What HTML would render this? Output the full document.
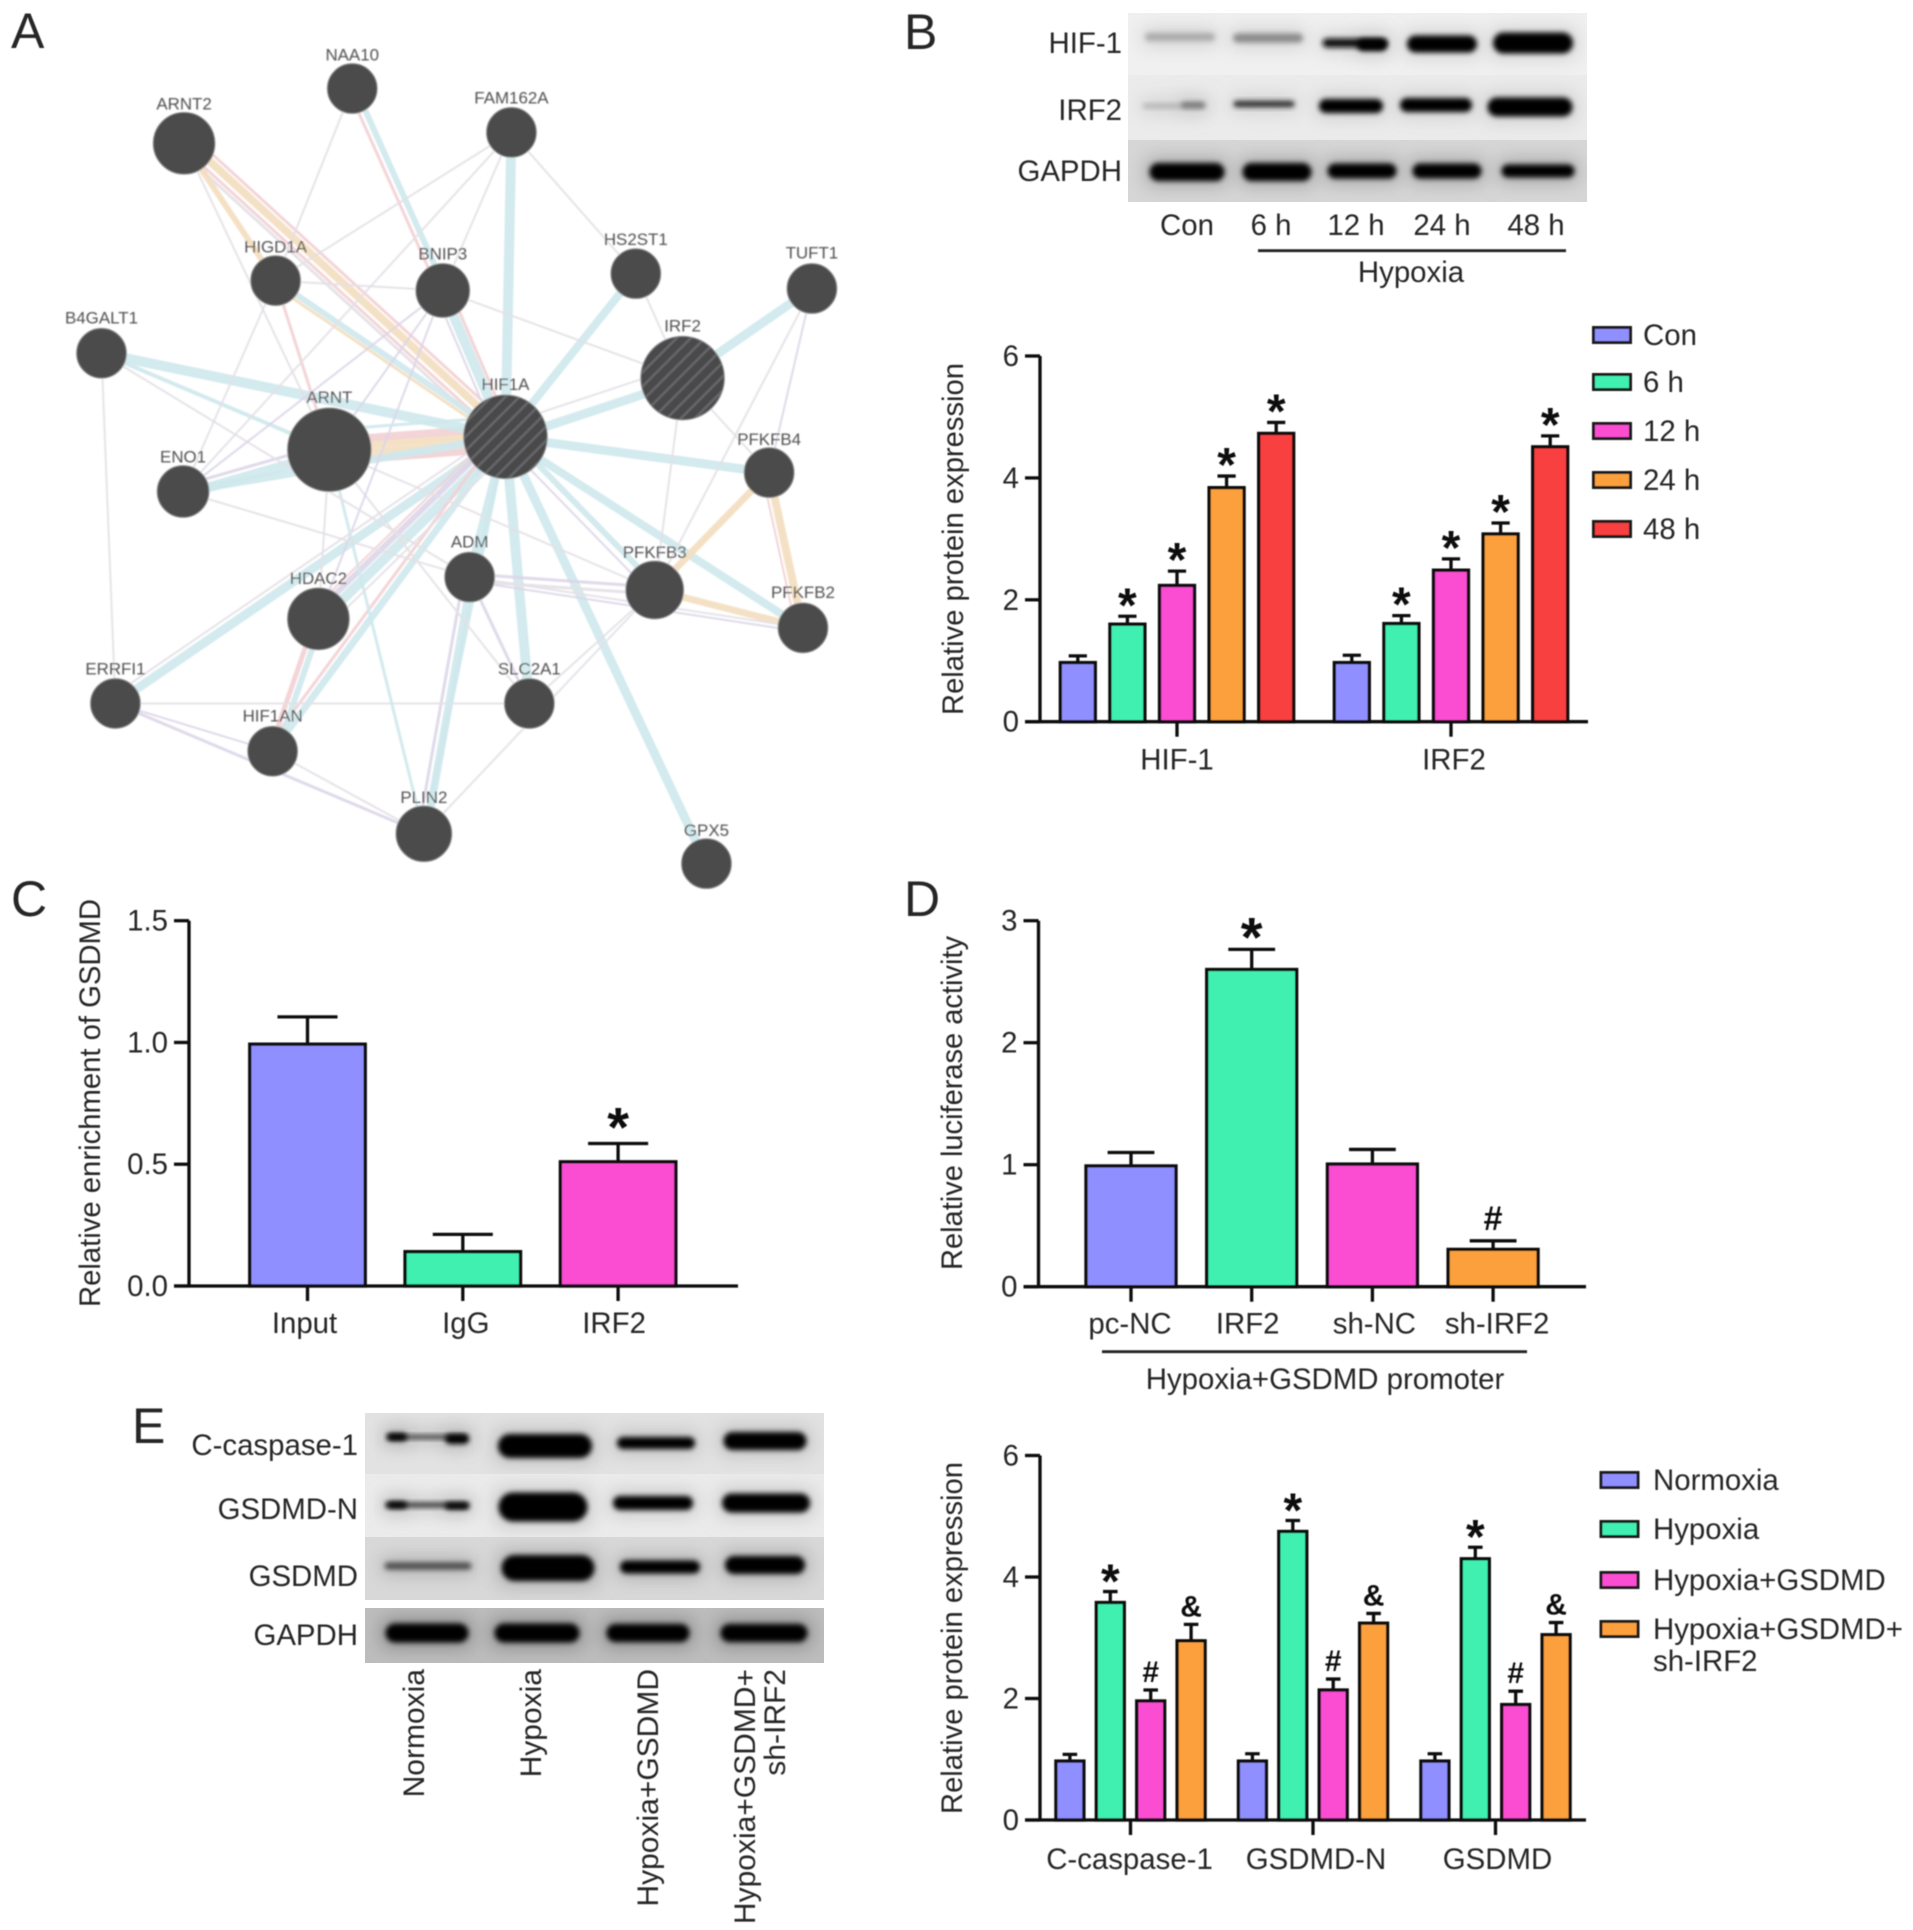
<!DOCTYPE html>
<html lang="en">
<head>
<meta charset="utf-8">
<title>Hypoxia, HIF-1, IRF2 and GSDMD multi-panel figure</title>
<style>
html,body{margin:0;padding:0;background:#fff;width:1913px;height:1930px;overflow:hidden}
svg{display:block}
text{font-family:"Liberation Sans",sans-serif;fill:#262626}
</style>
</head>
<body>
<svg id="fig" xmlns="http://www.w3.org/2000/svg" width="1913" height="1930" viewBox="0 0 1913 1930">
<defs>
<filter id="bandBlur" x="-20%" y="-80%" width="140%" height="260%"><feGaussianBlur stdDeviation="2.6"/></filter>
<filter id="haloBlur" x="-30%" y="-150%" width="160%" height="400%"><feGaussianBlur stdDeviation="9"/></filter>
<filter id="softBlur" x="-5%" y="-5%" width="110%" height="110%"><feGaussianBlur stdDeviation="0.8"/></filter>
<filter id="textBlur" x="-5%" y="-5%" width="110%" height="110%"><feGaussianBlur stdDeviation="0.45"/></filter>
<pattern id="hatch" width="10" height="10" patternUnits="userSpaceOnUse" patternTransform="rotate(-45)">
<rect width="10" height="10" fill="#4a4a4a"/><rect width="10" height="2.4" fill="#66666c"/>
</pattern>
</defs>
<g id="network" filter="url(#softBlur)" transform="scale(0.995)"></g>
<g id="blots"></g>
<g id="charts" filter="url(#textBlur)"></g>
<g id="labels" filter="url(#textBlur)"></g>
</svg>
<script>
// ---------- Chart data ----------
const bCategories = ['HIF-1', 'IRF2'];
const bSeries = ['Con', '6 h', '12 h', '24 h', '48 h'];
const bValues = [[0.97, 1.6, 2.235, 3.84, 4.73], [0.97, 1.61, 2.486, 3.08, 4.51]];
const bErrors = [[0.11, 0.13, 0.235, 0.19, 0.18], [0.12, 0.13, 0.185, 0.18, 0.18]];
const bMarks = [['', '*', '*', '*', '*'], ['', '*', '*', '*', '*']];
const bTicks = [0, 2, 4, 6];
const bTickLabels = ['0', '2', '4', '6'];

const cCategories = ['Input', 'IgG', 'IRF2'];
const cValues = [[0.993], [0.141], [0.51]];
const cErrors = [[0.112], [0.071], [0.075]];
const cMarks = [[''], [''], ['*']];
const cTicks = [0, 0.5, 1, 1.5];
const cTickLabels = ['0.0', '0.5', '1.0', '1.5'];

const dCategories = ['pc-NC', 'IRF2', 'sh-NC', 'sh-IRF2'];
const dValues = [[0.99], [2.6], [1.005], [0.306]];
const dErrors = [[0.11], [0.165], [0.12], [0.07]];
const dMarks = [[''], ['*'], [''], ['#']];
const dTicks = [0, 1, 2, 3];
const dTickLabels = ['0', '1', '2', '3'];

const eCategories = ['C-caspase-1', 'GSDMD-N', 'GSDMD'];
const eSeries = ['Normoxia', 'Hypoxia', 'Hypoxia+GSDMD', 'Hypoxia+GSDMD+ sh-IRF2'];
const eValues = [[0.97, 3.58, 1.96, 2.95], [0.97, 4.75, 2.14, 3.24], [0.97, 4.3, 1.9, 3.05]];
const eErrors = [[0.11, 0.18, 0.18, 0.27], [0.12, 0.18, 0.18, 0.16], [0.12, 0.19, 0.22, 0.2]];
const eMarks = [['', '*', '#', '&'], ['', '*', '#', '&'], ['', '*', '#', '&']];
const eTicks = [0, 2, 4, 6];
const eTickLabels = ['0', '2', '4', '6'];

const palette = ['#8f8fff', '#40f0b0', '#fa4dd2', '#fca03e', '#f84040'];
const NS = 'http://www.w3.org/2000/svg';
const FS = 29.4;

function mk(tag, attrs, parent) {
  const el = document.createElementNS(NS, tag);
  for (const k in attrs) el.setAttribute(k, attrs[k]);
  parent.appendChild(el);
  return el;
}
function txt(str, x, y, size, anchor, parent, extra) {
  const el = mk('text', Object.assign({x: x, y: y, 'font-size': size, 'text-anchor': anchor}, extra || {}), parent);
  el.textContent = str;
  return el;
}

// ---------- Bar chart renderer ----------
function drawChart(cfg) {
  const g = mk('g', {}, document.getElementById('charts'));
  
  
  const yScale = v => cfg.y0 - v / cfg.yMax * (cfg.y0 - cfg.yTop);
  const groupX = i => cfg.firstCenter + i * cfg.groupStep;
  const sw = 3.3;

  cfg.values.forEach((group, i) => {
    group.forEach((val, j) => {
      const cx = groupX(i) + (j - (group.length - 1) / 2) * cfg.barStep;
      const colour = palette[group.length === 1 ? i : j];
      const top = yScale(val);
      const errTop = yScale(val + cfg.errors[i][j]);
      const capHalf = cfg.barWidth * 0.52 / 2;
      const err = mk('path', {d: 'M' + cx + ' ' + top + 'V' + errTop + 'M' + (cx - capHalf) + ' ' + errTop + 'H' + (cx + capHalf), fill: 'none', stroke: '#111', 'stroke-width': sw}, g);
      
      
      const bar = mk('rect', {x: cx - cfg.barWidth / 2, y: top, width: cfg.barWidth, height: cfg.y0 - top, fill: colour, stroke: '#111', 'stroke-width': sw}, g);
      
      
      const m = cfg.marks[i][j];
      if (m) {
        const isStar = m === '*';
        const mark = txt(m, cx, errTop + (isStar ? cfg.starDy : cfg.symDy), isStar ? cfg.starSize : cfg.symSize, 'middle', g, {'font-weight': 'bold', style: 'fill:#111'});
        
        
      }
    });
  });

  const axis = mk('path', {d: 'M' + cfg.x0 + ' ' + cfg.yTop + 'V' + cfg.y0 + 'M' + (cfg.x0 - 15) + ' ' + cfg.y0 + 'H' + cfg.xRight, fill: 'none', stroke: '#111', 'stroke-width': sw}, g);
  
  

  cfg.ticks.forEach((t, i) => {
    const y = yScale(t);
    const tk = mk('line', {x1: cfg.x0 - 15, x2: cfg.x0, y1: y, y2: y, stroke: '#111', 'stroke-width': sw}, g);
    
    
    const lb = txt(cfg.tickLabels[i], cfg.x0 - 21, y + 10, FS, 'end', g);
    
    
  });

  cfg.categories.forEach((c, i) => {
    const x = groupX(i);
    const tk = mk('line', {x1: x, x2: x, y1: cfg.y0, y2: cfg.y0 + 15, stroke: '#111', 'stroke-width': sw}, g);
    
    
    const lb = txt(c, x + cfg.labelShift[i], cfg.y0 + cfg.labelDy, FS, 'middle', g);
    
    
  });

  const title = txt(cfg.title, 0, 0, FS, 'middle', g, {transform: 'translate(' + cfg.titleX + ' ' + cfg.titleY + ') rotate(-90)', textLength: cfg.titleLen, lengthAdjust: 'spacingAndGlyphs'});
  
  
}

drawChart({name: 'protein-expression-chart-b', key: 'b', categories: bCategories, values: bValues, errors: bErrors, marks: bMarks, ticks: bTicks, tickLabels: bTickLabels,
  x0: 1040, y0: 721.7, yTop: 356, xRight: 1588, yMax: 6, firstCenter: 1177, groupStep: 274, barStep: 49.6, barWidth: 35, labelDy: 48,
  starSize: 48, starDy: 5, symSize: 30, symDy: -8, title: 'Relative protein expression', titleX: 963, titleY: 539, titleLen: 352, labelShift: [0, 3]});
drawChart({name: 'gsdmd-enrichment-chart-c', key: 'c', categories: cCategories, values: cValues, errors: cErrors, marks: cMarks, ticks: cTicks, tickLabels: cTickLabels,
  x0: 189, y0: 1286, yTop: 920.7, xRight: 738, yMax: 1.5, firstCenter: 307.5, groupStep: 155.3, barStep: 0, barWidth: 115.5, labelDy: 47,
  starSize: 56, starDy: 3, symSize: 30, symDy: -8, title: 'Relative enrichment of GSDMD', titleX: 100, titleY: 1103, titleLen: 408, labelShift: [-3, 3, -4]});
drawChart({name: 'luciferase-activity-chart-d', key: 'd', categories: dCategories, values: dValues, errors: dErrors, marks: dMarks, ticks: dTicks, tickLabels: dTickLabels,
  x0: 1038.5, y0: 1286.7, yTop: 920.7, xRight: 1586, yMax: 3, firstCenter: 1131, groupStep: 120.7, barStep: 0, barWidth: 90, labelDy: 47,
  starSize: 56, starDy: 7, symSize: 34, symDy: -11, title: 'Relative luciferase activity', titleX: 962, titleY: 1103, titleLen: 334, labelShift: [-1, -4, 2, 4]});
drawChart({name: 'protein-expression-chart-e', key: 'e', categories: eCategories, values: eValues, errors: eErrors, marks: eMarks, ticks: eTicks, tickLabels: eTickLabels,
  x0: 1040, y0: 1820, yTop: 1455.5, xRight: 1586, yMax: 6, firstCenter: 1130.5, groupStep: 182.5, barStep: 40.4, barWidth: 28, labelDy: 49,
  starSize: 48, starDy: 6, symSize: 30, symDy: -8, title: 'Relative protein expression', titleX: 962, titleY: 1638, titleLen: 352, labelShift: [-1, 3, 2]});

// ---------- Legends ----------
function drawLegend(key, items, x, ys, labelX) {
  const g = mk('g', {}, document.getElementById('charts'));
  
  
  items.forEach((it, i) => {
    const s = mk('rect', {x: x, y: ys[i] - 7.5, width: 37, height: 15, fill: palette[i], stroke: '#1c1c1c', 'stroke-width': 3}, g);
    
    
    const t = txt(it, labelX, ys[i] + 10, FS, 'start', g);
    
    
  });
}
drawLegend('b', bSeries, 1593.5, [335, 382, 431, 480, 529], 1643);
drawLegend('e', ['Normoxia', 'Hypoxia', 'Hypoxia+GSDMD', 'Hypoxia+GSDMD+'], 1601, [1480, 1529, 1580, 1629], 1653);
const extraLegendLine = txt('sh-IRF2', 1653, 1671, FS, 'start', document.getElementById('charts'));



// ---------- Network (panel A) ----------
const nodes = {
  NAA10: [354, 89, 25, 354, 61], ARNT2: [185, 144, 31, 185, 110], FAM162A: [514, 133, 25, 514, 104],
  HIGD1A: [277, 282, 25, 277, 254], BNIP3: [445, 292, 27, 445, 261], HS2ST1: [639, 275, 25, 639, 246],
  TUFT1: [816, 290, 25, 816, 260], B4GALT1: [102, 355, 25, 102, 325], IRF2: [686, 380, 42, 686, 333],
  HIF1A: [508, 439, 42, 508, 392], ARNT: [331, 452, 42, 331, 405], ENO1: [184, 494, 26, 184, 465],
  PFKFB4: [773, 475, 25, 773, 447], ADM: [472, 580, 25, 472, 550], PFKFB3: [658, 593, 29, 658, 561],
  HDAC2: [320, 622, 31, 320, 587], PFKFB2: [807, 631, 25, 807, 601], ERRFI1: [116, 707, 25, 116, 678],
  SLC2A1: [532, 707, 25, 532, 678], HIF1AN: [274, 755, 25, 274, 725], PLIN2: [426, 838, 28, 426, 807],
  GPX5: [710, 868, 25, 710, 840]
};
const BL = '#cfe8ed', OR = '#f3dec0', PK = '#f2d0d4', PU = '#dcd6e8', GR = '#e4e1e6';
const edges = [
  ['ARNT','HIF1A',PK,8,-9],['ARNT','HIF1A',OR,7,-2],['ARNT','HIF1A',OR,7,5],['ARNT','HIF1A',PK,7,12],
  ['ARNT2','HIF1A',OR,8,-4],['ARNT2','HIF1A',PK,3,4],['ARNT2','HIF1A',GR,3,8],['ARNT2','HIF1A',PK,3,-11],['ARNT2','HIGD1A',OR,6,0],
  ['HIF1A','B4GALT1',BL,10,0],['HIF1A','ENO1',BL,8,0],['HIF1A','ERRFI1',BL,9,0],['HIF1A','HDAC2',BL,10,-3],
  ['HIF1A','HDAC2',PU,6,6],['HIF1A','HDAC2',PK,2,11],['HIF1A','HIF1AN',BL,7,0],['HIF1A','HIF1AN',PK,3,7],
  ['HIF1A','PLIN2',BL,5,0],['HIF1A','ADM',BL,9,0],['ADM','PLIN2',BL,8,-2],['ADM','PLIN2',PU,3,6],['HIF1A','SLC2A1',BL,10,0],
  ['HIF1A','GPX5',BL,9,0],['HIF1A','PFKFB2',BL,8,0],['HIF1A','PFKFB3',BL,6,-4],['HIF1A','PFKFB4',BL,9,0],
  ['HIF1A','IRF2',BL,9,3],['HIF1A','IRF2',GR,2,-12],['IRF2','TUFT1',BL,9,0],['HIF1A','HS2ST1',BL,8,0],['HIF1A','FAM162A',BL,10,0],
  ['HIF1A','BNIP3',BL,10,0],['HIF1A','BNIP3',PK,3,7],['HIF1A','BNIP3',PU,2,-8],['NAA10','BNIP3',BL,6,-3],['NAA10','BNIP3',PK,3,4],
  ['HIGD1A','HIF1A',BL,6,0],['HIGD1A','HIF1A',OR,3,5],['ENO1','ARNT',BL,10,3],['ENO1','ARNT',PU,3,-6],['B4GALT1','ARNT',BL,4,0],
  ['PFKFB4','PFKFB3',OR,7,0],['PFKFB4','PFKFB2',OR,8,0],['PFKFB3','PFKFB2',OR,7,0],['PFKFB4','PFKFB2',PK,2,7],
  ['HIF1AN','HDAC2',PK,5,-3],['HIF1AN','HDAC2',BL,6,4],['ADM','PFKFB3',PU,3,-3],['ADM','PFKFB3',GR,3,4],['ADM','SLC2A1',PU,3,0],
  ['B4GALT1','ERRFI1',GR,2,0],['ARNT2','ARNT',GR,2,0],['HIGD1A','ARNT',PK,3,0],['HIGD1A','ENO1',GR,2,0],
  ['NAA10','HIGD1A',GR,2,0],['FAM162A','HIGD1A',GR,2,0],['FAM162A','ENO1',GR,2,0],['FAM162A','BNIP3',GR,2,0],
  ['FAM162A','HS2ST1',GR,2,0],['HS2ST1','IRF2',GR,2,0],['BNIP3','IRF2',GR,2,0],['HIGD1A','BNIP3',GR,2,0],
  ['IRF2','PFKFB3',GR,2,0],['IRF2','PFKFB4',GR,2,0],['TUFT1','PFKFB3',GR,2,0],['TUFT1','PFKFB4',PU,2,0],
  ['ERRFI1','SLC2A1',GR,2,0],['ERRFI1','HIF1AN',PU,2,0],['ERRFI1','PLIN2',PU,3,0],['HIF1AN','PLIN2',GR,2,0],
  ['SLC2A1','PFKFB3',GR,2,0],['PLIN2','PFKFB3',GR,2,0],['ARNT','PFKFB3',GR,2,0],['ARNT','SLC2A1',GR,2,0],
  ['ARNT','HDAC2',GR,2,0],['BNIP3','ARNT',PU,2,0],['BNIP3','HDAC2',PU,2,0],['ADM','PFKFB2',GR,2,0],
  ['ARNT','PLIN2',BL,3,0],['HIF1A','PFKFB3',PU,2,5],['B4GALT1','ADM',GR,2,0],['ENO1','ADM',GR,2,0],
  ['HIF1A','HDAC2',GR,2,-12],['BNIP3','ENO1',PU,2,0],['HIF1A','ARNT',BL,3,20],['HIF1A','ERRFI1',GR,2,8],['ADM','PFKFB2',PU,2,4]
];
const net = document.getElementById('network');
edges.forEach((e, i) => {
  const a = nodes[e[0]], b = nodes[e[1]];
  const dx = b[0] - a[0], dy = b[1] - a[1], len = Math.hypot(dx, dy) || 1;
  const px = -dy / len * e[4], py = dx / len * e[4];
  const l = mk('line', {x1: a[0] + px, y1: a[1] + py, x2: b[0] + px, y2: b[1] + py, stroke: e[2], 'stroke-width': e[3], 'stroke-opacity': 0.92}, net);
  
  
});
Object.keys(nodes).forEach(n => {
  const v = nodes[n];
  const c = mk('circle', {cx: v[0], cy: v[1], r: v[2], fill: (n === 'HIF1A' || n === 'IRF2') ? 'url(#hatch)' : '#4b4b4b', stroke: '#8a8a8a', 'stroke-width': 1}, net);
  
  
  const t = txt(n, v[3], v[4], 17, 'middle', net, {style: 'fill:#4f4f4f'});
  
  
});

// ---------- Western blots ----------
const blotB = [
  {name:'hif1', y:13, h:62, bg:'#f0f0f0', halo:'#d2d2d2', bands:[[1180,37,70,8,'#aaa'],[1268,38,70,9,'#8a8a8a'],[1355,43,65,9,'#111'],[1372,45,30,12,'#000'],[1442,44,70,17,'#000'],[1533,43,80,21,'#000']]},
  {name:'irf2', y:75, h:65, bg:'#ebebeb', halo:'#cfcfcf', bands:[[1174,106,62,4,'#aaa'],[1193,105,24,6,'#777'],[1264,104,61,6,'#222'],[1351,106,64,14,'#000'],[1436,105,72,14,'#000'],[1530,107,85,19,'#000']]},
  {name:'gapdh', y:140, h:62, bg:'#d6d6d6', halo:'#a8a8a8', bands:[[1187,172,75,18,'#000'],[1277,172,69,18,'#000'],[1362,171,69,15,'#000'],[1447,171,69,15,'#000'],[1538,171,73,13,'#000']]}
];
const blotE = [
  {name:'c-caspase-1', y:1413, h:61, bg:'#e2e2e2', halo:'#c0c0c0', bands:[[427,1437,80,4,'#333'],[397,1437,20,8,'#000'],[457,1439,24,10,'#000'],[545,1446,94,24,'#000'],[656,1443,78,12,'#000'],[765,1441,83,18,'#000']]},
  {name:'gsdmd-n', y:1474, h:63, bg:'#ebebeb', halo:'#c8c8c8', bands:[[427,1505,84,5,'#333'],[397,1505,20,7,'#000'],[457,1506,24,7,'#000'],[543,1507,89,29,'#000'],[653,1503,80,14,'#000'],[766,1503,88,19,'#000']]},
  {name:'gsdmd', y:1537, h:63, bg:'#d8d8d8', halo:'#b0b0b0', bands:[[428,1566,87,7,'#4a4a4a'],[548,1568,93,26,'#000'],[660,1567,80,13,'#000'],[765,1565,80,18,'#000']]},
  {name:'gapdh', y:1608, h:55, bg:'#bdbdbd', halo:'#8c8c8c', bands:[[427,1633,83,19,'#000'],[537,1633,85,19,'#000'],[648,1633,83,18,'#000'],[764,1633,87,18,'#000']]}
];
function drawBlot(key, rows, x, w) {
  const wrap = document.getElementById('blots');
  rows.forEach(r => {
    const g = mk('g', {}, wrap);
    
    
    const cp = mk('clipPath', {id: 'clip-' + key + '-' + r.name}, g);
    mk('rect', {x: x, y: r.y, width: w, height: r.h}, cp);
    const inner = mk('g', {'clip-path': 'url(#clip-' + key + '-' + r.name + ')'}, g);
    mk('rect', {x: x, y: r.y, width: w, height: r.h, fill: r.bg}, inner);
    r.bands.forEach(b => {
      mk('rect', {x: b[0] - b[2] / 2 - 4, y: b[1] - b[3] / 2 - 5, width: b[2] + 8, height: b[3] + 10, rx: 8, fill: r.halo, filter: 'url(#haloBlur)'}, inner);
    });
    r.bands.forEach((b, i) => {
      const band = mk('rect', {x: b[0] - b[2] / 2, y: b[1] - b[3] / 2, width: b[2], height: b[3], rx: b[3] / 2, fill: b[4], filter: 'url(#bandBlur)'}, inner);
      
      
    });
  });
}
drawBlot('b', blotB, 1128, 459);
drawBlot('e', blotE, 365, 459);

// ---------- Free-standing labels ----------
const L = document.getElementById('labels');
const panelLetters = [['A', 11, 48], ['B', 904, 49], ['C', 11, 916], ['D', 904, 916], ['E', 132, 1443]];
panelLetters.forEach(p => {
  const t = txt(p[0], p[1], p[2], 50, 'start', L);
  
  
});
const plain = [
  ['HIF-1', 1122, 53, 'end'], ['IRF2', 1122, 120, 'end'], ['GAPDH', 1122, 181, 'end'],
  ['Con', 1187, 235, 'middle'], ['6 h', 1271, 235, 'middle'], ['12 h', 1356, 235, 'middle'], ['24 h', 1442, 235, 'middle'], ['48 h', 1536, 235, 'middle'],
  ['Hypoxia', 1411, 282, 'middle'],
  ['Hypoxia+GSDMD promoter', 1325, 1389, 'middle'],
  ['C-caspase-1', 358, 1455, 'end'], ['GSDMD-N', 358, 1519, 'end'], ['GSDMD', 358, 1586, 'end'], ['GAPDH', 358, 1645, 'end']
];
plain.forEach((p, i) => {
  const t = txt(p[0], p[1], p[2], FS, p[3], L);
  
  
});
const vertical = [['Normoxia', 424], ['Hypoxia', 541], ['Hypoxia+GSDMD', 658], ['Hypoxia+GSDMD+', 755], ['sh-IRF2', 785]];
vertical.forEach((v, i) => {
  const t = txt(v[0], 0, 0, 30, 'end', L, {transform: 'translate(' + v[1] + ' 1669) rotate(-90)'});
  
  
});
const rules = [[1258, 250.7, 1566], [1102, 1351.7, 1527]];
rules.forEach((r, i) => {
  const l = mk('line', {x1: r[0], x2: r[2], y1: r[1], y2: r[1], stroke: '#222', 'stroke-width': 2.8}, L);
  
  
});
</script>
</body>
</html>
